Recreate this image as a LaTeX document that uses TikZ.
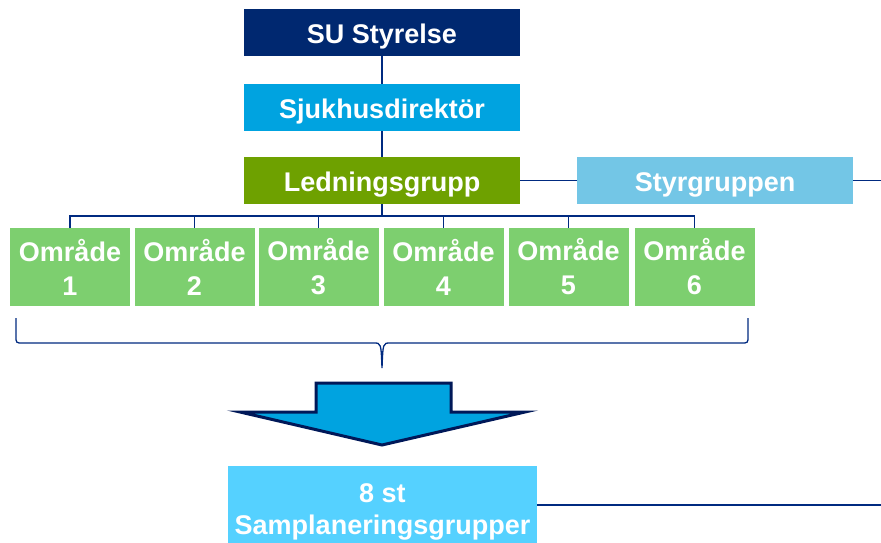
\documentclass[tikz,border=0pt]{standalone}
\usepackage{fontspec}
\setmainfont{Liberation Sans}
\definecolor{navy}{RGB}{0,40,112}
\definecolor{linenavy}{RGB}{0,42,128}
\definecolor{arrowline}{RGB}{0,24,88}
\definecolor{sjblue}{RGB}{0,163,224}
\definecolor{ledgreen}{RGB}{110,161,0}
\definecolor{styrblue}{RGB}{115,198,230}
\definecolor{omrgreen}{RGB}{125,207,111}
\definecolor{stcyan}{RGB}{85,209,255}
\begin{document}
\begin{tikzpicture}[x=1pt,y=-1pt,
  box/.style={rectangle, inner sep=0pt, text=white, font=\fontsize{27}{32}\selectfont\bfseries, align=center},
  wide/.style={box, minimum width=276pt, minimum height=47pt, text height=21pt, text depth=0pt},
  omr/.style={box, fill=omrgreen, minimum width=120pt, minimum height=78pt, font=\fontsize{27}{34}\selectfont\bfseries},
  conn/.style={draw=linenavy, line width=1.6pt}]
\useasboundingbox (0,0) rectangle (881,542);
\clip (0,0) rectangle (881,542);
\node[wide, fill=navy] (su) at (382,32.5) {SU Styrelse};
\node[wide, fill=sjblue] (sj) at (382,107.5) {Sjukhusdirektör};
\node[wide, fill=ledgreen] (led) at (382,180.5) {Ledningsgrupp};
\node[wide, fill=styrblue] (styr) at (715,180.5) {Styrgruppen};
\node[omr] (o1) at (70,267) {Område\\1};
\node[omr] (o2) at (194.5,267) {Område\\2};
\node[omr] (o3) at (318.5,267) {Område\\3};
\node[omr] (o4) at (443.5,267) {Område\\4};
\node[omr] (o5) at (568.5,267) {Område\\5};
\node[omr] (o6) at (694.5,267) {Område\\6};
\node[box, fill=stcyan, minimum width=309pt, minimum height=92pt] (st8) at (382.5,512) {8 st\\Samplaneringsgrupper};
\coordinate (styrend) at (881,180.5);
\coordinate (stend) at (881,505);
\draw[conn] (su.south) -- (sj.north);
\draw[conn] (sj.south) -- (led.north);
\draw[conn] (led.east) -- (styr.west);
\draw[conn] (styr.east) -- (styrend);
\draw[conn] (stend -| st8.east) -- (stend);
\foreach \i in {1,...,6}{
  \draw[conn] (led.south) -- ++(0,12) -| (o\i.north);
}
% brace
\draw[linenavy, line width=1.3pt]
  (16,318) -- (16,336) .. controls (16,343) .. (23,343) -- (374,343)
  .. controls (381,343) .. (382,368)
  .. controls (383,343) .. (390,343) -- (741,343)
  .. controls (748,343) .. (748,336) -- (748,318);
% block arrow
\draw[arrowline, line width=3pt, fill=sjblue, miter limit=20]
  (316,383) -- (451,383) -- (451,412) -- (525,412) -- (382,445)
  -- (240,412) -- (316,412) -- cycle;
\end{tikzpicture}
\end{document}
